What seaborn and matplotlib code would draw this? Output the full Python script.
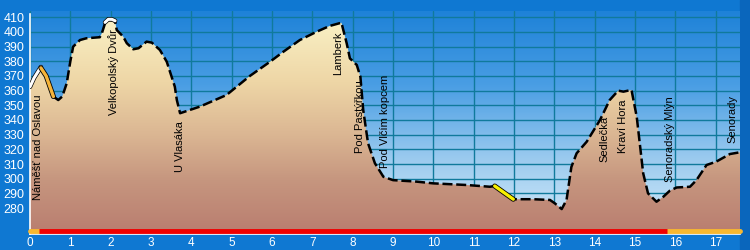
import numpy as np
import matplotlib
matplotlib.use("Agg")
import matplotlib.pyplot as plt
import matplotlib.patheffects as pe
from matplotlib.colors import LinearSegmentedColormap
import seaborn as sns

# ---- data ----
km = [0, 0.1, 0.27, 0.4, 0.58, 0.70, 0.8, 0.91, 1.0, 1.07, 1.24, 1.40, 1.73, 1.78, 1.86,
      1.94, 2.03, 2.11, 2.15, 2.31, 2.40, 2.56, 2.69, 2.89, 3.02, 3.22, 3.39, 3.59, 3.64,
      3.72, 4.21, 4.87, 5.45, 5.95, 6.28, 6.69, 7.11, 7.43, 7.72, 7.85, 7.93, 8.10, 8.19,
      8.26, 8.38, 8.55, 8.76, 9.0, 9.58, 10.0, 10.82, 11.4, 11.52, 11.98, 12.47, 12.89,
      13.01, 13.18, 13.3, 13.42, 13.55, 13.8, 14.13, 14.37, 14.58, 14.71, 14.91, 15.04,
      15.2, 15.32, 15.53, 15.7, 15.86, 16.03, 16.36, 16.52, 16.77, 17.01, 17.35, 17.6]
elev = [362, 368, 375.5, 370, 356, 353.6, 356, 365, 380, 390, 394.5, 395.7, 396.4, 399,
        405.9, 408, 408, 407, 401.3, 396.8, 392.3, 388.2, 388.9, 393.4, 392.7, 387.7, 379.7,
        362.7, 353.6, 344.6, 349.1, 357, 370, 379.7, 386.5, 394.5, 400.2, 404.1, 406.3,
        392.3, 382, 377.5, 369.5, 346.8, 324.1, 310.5, 301.3, 299, 298, 296.8, 295.7, 294.5,
        295, 286, 286, 285.5, 283.2, 279.3, 285.5, 308, 317.3, 325.2, 340, 353.6, 360, 359.3,
        360.5, 342.2, 303.7, 290, 284.3, 287.7, 291.8, 294, 294.5, 299, 309.3, 311.6, 316.8, 318]

place_names = ["Náměšť nad Oslavou", "Velkopolský Dvůr", "U Vlasáka", "Lamberk",
               "Pod Pastýřkou", "Pod Vlčím kopcem", "Sedlečka", "Kraví Hora",
               "Senoradský Mlýn", "Senorady"]
place_km = [0.19, 2.06, 3.72, 7.63, 8.18, 8.80, 14.23, 14.70, 15.86, 17.42]
place_elev = [285.5, 343.4, 304.5, 370.7, 317.5, 307.3, 311.4, 317.5, 297.7, 324.3]

white_segs = [(0.0, 0.27), (1.86, 2.11)]
orange_segs = [(0.27, 0.58)]
yellow_segs = [(11.52, 11.98)]

route_red = (0.23, 15.8)
route_orange = [(0.0, 0.23), (15.8, 17.6)]

x_ticks = list(range(0, 18))
y_ticks = list(range(280, 411, 10))

# ---- style ----
sns.set_style("white")
plt.rcParams['font.family'] = ['Liberation Sans', 'DejaVu Sans']

FIG_BG = "#0f78d2"
fig = plt.figure(figsize=(7.5, 2.5), dpi=100, facecolor=FIG_BG)
ax = fig.add_axes([30/750, 16/250, 710/750, (234-11.4)/250])
ax.set_facecolor(FIG_BG)

XMIN, XMAX, YMIN, YMAX = 0, 17.6, 262.3, 414
ax.set_xlim(XMIN, XMAX)
ax.set_ylim(YMIN, YMAX)

# sky gradient
sky_cmap = LinearSegmentedColormap.from_list("sky", ["#d6ecfa", "#9ccbef", "#4a9ee4", "#1e82d8"])
grad = np.linspace(0, 1, 256).reshape(-1, 1)
ax.imshow(grad, extent=[XMIN, XMAX, YMIN, YMAX], origin="lower", aspect="auto",
          cmap=sky_cmap, zorder=0)

# grid
ax.set_axisbelow(True)
ax.grid(True, color="#107a9c", lw=1.0)

# terrain
km_a = np.array(km)
el_a = np.array(elev)
poly_x = np.concatenate([[km_a[0]], km_a, [km_a[-1]]])
poly_y = np.concatenate([[YMIN], el_a, [YMIN]])
poly = ax.fill(poly_x, poly_y, facecolor="none", edgecolor="none", zorder=1)[0]
ter_cmap = LinearSegmentedColormap.from_list(
    "ter", [(0.0, "#b97d6f"), (0.25, "#c6967f"), (0.45, "#dab592"),
            (0.7, "#eed6a6"), (1.0, "#faf2c6")])
im = ax.imshow(grad, extent=[XMIN, XMAX, YMIN, 410], origin="lower", aspect="auto",
               cmap=ter_cmap, zorder=1)
im.set_clip_path(poly)

# profile line
sns.lineplot(x=km, y=elev, color="black", lw=1.8, linestyle=(0, (4, 1.5)),
             sort=False, estimator=None, ax=ax, zorder=3)

def seg(lo, hi):
    m = (km_a >= lo - 1e-9) & (km_a <= hi + 1e-9)
    return km_a[m], el_a[m]

for lo, hi in white_segs:
    sx, sy = seg(lo, hi)
    ax.plot(sx, sy + 0.6, color="white", lw=2.2, zorder=4, solid_capstyle="round",
            path_effects=[pe.Stroke(linewidth=3.2, foreground="black"), pe.Normal()])
for lo, hi in orange_segs:
    sx, sy = seg(lo, hi)
    ax.plot(sx, sy, color="#f5b43a", lw=2.4, zorder=4, solid_capstyle="round",
            path_effects=[pe.Stroke(linewidth=3.6, foreground="black"), pe.Normal()])
for lo, hi in yellow_segs:
    sx, sy = seg(lo, hi)
    ax.plot(sx, sy, color="#f8f000", lw=2.4, zorder=4, solid_capstyle="round",
            path_effects=[pe.Stroke(linewidth=3.6, foreground="black"), pe.Normal()])

# route bar
BAR_Y = 264.4
for lo, hi in route_orange:
    ax.plot([lo, hi], [BAR_Y, BAR_Y], color="#f8b830", lw=3.5, solid_capstyle="round",
            zorder=5, clip_on=False)
ax.plot(list(route_red), [BAR_Y, BAR_Y], color="#f00000", lw=3.5, solid_capstyle="butt",
        zorder=6)

# place names
for name, x, y in zip(place_names, place_km, place_elev):
    ax.text(x, y, name, rotation=90, ha="center", va="bottom", fontsize=8,
            color="black", zorder=7)

# axes
ax.set_xticks(x_ticks)
ax.set_yticks(y_ticks)
ax.tick_params(axis="y", colors="white", labelcolor="white", labelsize=9,
               length=3, width=1, direction="out", pad=1)
ax.tick_params(axis="x", colors="white", labelcolor="white", labelsize=8.5,
               length=2, width=1, direction="out", pad=0.5)
for s in ["top", "right"]:
    ax.spines[s].set_visible(False)
for s in ["left", "bottom"]:
    ax.spines[s].set_color("white")
    ax.spines[s].set_linewidth(1.2)
ax.spines["left"].set_bounds(YMIN, 412)

# right dark band
fig.patches.append(plt.Rectangle((740/750, 0), 10/750, 1, transform=fig.transFigure,
                                 color="#0a66bc", zorder=-1))

fig.savefig("out.png", dpi=100, facecolor=FIG_BG)
